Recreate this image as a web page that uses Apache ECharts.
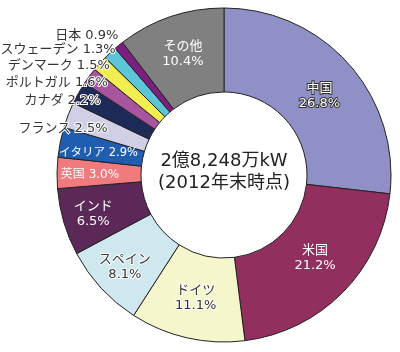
<!DOCTYPE html>
<html>
<head>
<meta charset="utf-8">
<script src="https://cdn.jsdelivr.net/npm/echarts@6/dist/echarts.min.js"></script>
<style>
  html, body { margin: 0; padding: 0; background: #fff; }
  #windShare { width: 400px; height: 352px; }
</style>
</head>
<body>
<div id="windShare"></div>
<script>
// 国別シェア (%), 時計回りに12時の位置から
var countries = ['中国', '米国', 'ドイツ', 'スペイン', 'インド', '英国', 'イタリア',
  'フランス', 'カナダ', 'ポルトガル', 'デンマーク', 'スウェーデン', '日本', 'その他']
var shares = [26.8, 21.2, 11.1, 8.1, 6.5, 3.0, 2.9, 2.5, 2.2, 1.6, 1.5, 1.3, 0.9, 10.4]
var centerLines = ['2億8,248万kW', '(2012年末時点)']

var palette = ['#8f90c6', '#922f5e', '#f6f6cc', '#cfe7ee', '#5b2858', '#f07a7e', '#1f5db0',
  '#cfcfe6', '#1e2a57', '#a9549f', '#f2ee52', '#5cc6d6', '#7b1f80', '#808080']

var FONT = '"DejaVu Sans", "Noto Sans CJK JP", sans-serif'

// label look per slice
var whiteText = {color: '#fff', textBorderWidth: 0}
var whiteOutlined = {color: '#fff', textBorderColor: '#333', textBorderWidth: 2}
var darkOutlined = {color: '#333', textBorderColor: '#fff', textBorderWidth: 2}
var labelStyles = [whiteOutlined, whiteText, darkOutlined, darkOutlined, whiteText, whiteText, whiteText,
  darkOutlined, darkOutlined, darkOutlined, darkOutlined, darkOutlined, darkOutlined, whiteText]
var twoLine = [true, true, true, true, true, false, false, false, false, false, false, false, false, true]

// nudges for labels; the small slices' labels sit out to the left
var nudge = {
  0: {dy: 6},
  1: {dy: -7},
  2: {dy: -2},
  3: {dx: -5, dy: 5},
  4: {dx: -8, dy: 3},
  5: {dx: -6, dy: 1},
  6: {dx: 0, dy: 3},
  7: {dx: 3, dy: 0, align: 'right'},
  8: {dx: -12, dy: -11, align: 'right'},
  9: {dx: -13, dy: -16, align: 'right'},
  10: {dx: -19, dy: -24, align: 'right'},
  11: {dx: -21, dy: -32, align: 'right'},
  12: {dx: -25, dy: -40, align: 'right'}
}

var pieData = countries.map(function (name, i) {
  var pct = shares[i].toFixed(1) + '%'
  var label = Object.assign({
    formatter: twoLine[i] ? name + '\n' + pct : name + ' ' + pct
  }, labelStyles[i])
  if (i === 5) label.fontSize = 12
  if (i === 6) label.fontSize = 11.5
  return {
    name: name,
    value: shares[i],
    itemStyle: {color: palette[i]},
    label: label
  }
})

var chart = echarts.init(document.getElementById('windShare'))
var option = {
  animation: false,
  backgroundColor: '#fff',
  graphic: [{
    type: 'text',
    x: 224,
    y: 172,
    style: {
      text: centerLines.join('\n'),
      align: 'center',
      verticalAlign: 'middle',
      font: '18px ' + FONT,
      lineHeight: 22,
      fill: '#222'
    }
  }],
  series: [{
    type: 'pie',
    center: [224, 175],
    radius: [83, 167],
    startAngle: 90,
    clockwise: true,
    avoidLabelOverlap: false,
    itemStyle: {borderColor: '#222', borderWidth: 1},
    label: {
      show: true,
      position: 'inside',
      fontFamily: FONT,
      fontSize: 13,
      lineHeight: 15
    },
    labelLine: {show: false},
    labelLayout: function (params) {
      return nudge[params.dataIndex] || {}
    },
    emphasis: {disabled: true},
    data: pieData
  }]
}
chart.setOption(option)
</script>
</body>
</html>
